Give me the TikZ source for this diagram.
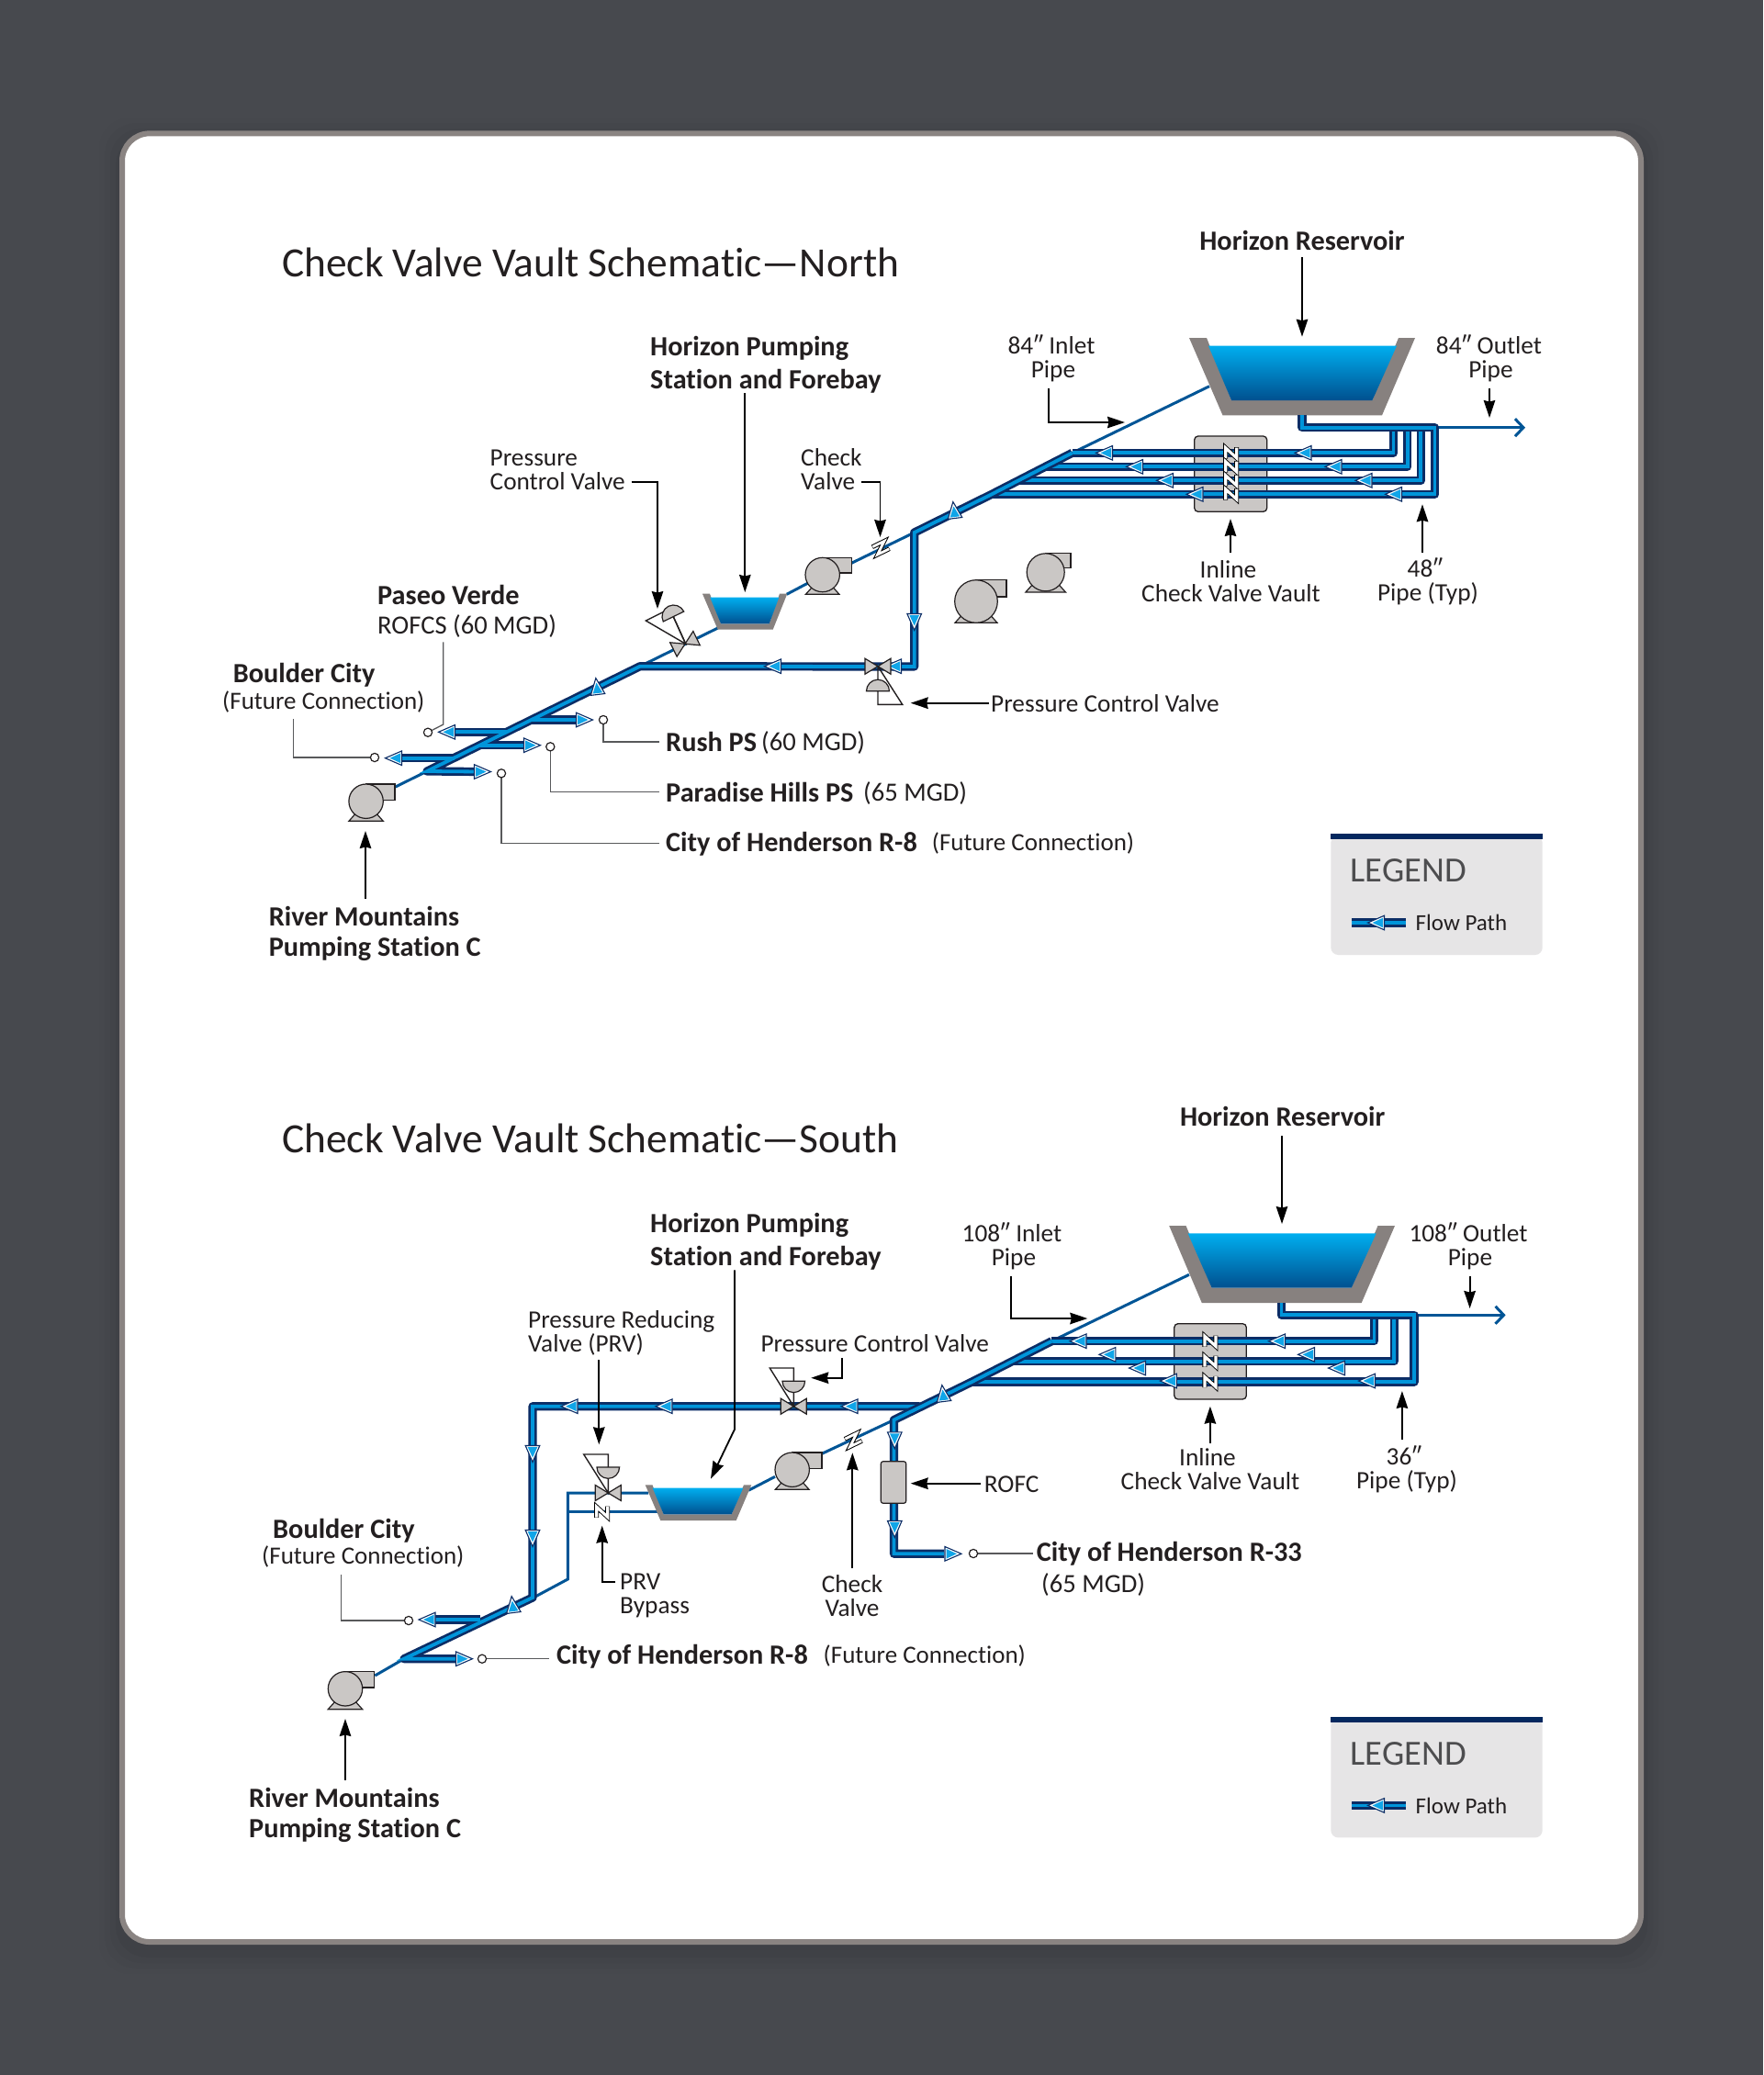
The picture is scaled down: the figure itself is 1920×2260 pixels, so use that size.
\documentclass[tikz,border=0pt]{standalone}
\usepackage{fontspec}
\setmainfont{Carlito}[Ligatures=NoCommon]
\usetikzlibrary{arrows.meta}
\definecolor{bgdark}{HTML}{47494E}
\definecolor{frame}{HTML}{8A8482}
\definecolor{navy}{HTML}{0B2D66}
\definecolor{pipeblue}{HTML}{0095DA}
\definecolor{arrowblue}{HTML}{10A5E8}
\definecolor{thinblue}{HTML}{005596}
\definecolor{watertop}{HTML}{00AEEF}
\definecolor{waterbot}{HTML}{00508F}
\definecolor{greyfill}{HTML}{CAC7C5}
\definecolor{basin}{HTML}{87817F}
\definecolor{ink}{HTML}{231F20}
\definecolor{lead}{HTML}{58595B}
\definecolor{legendbg}{HTML}{E6E5E6}
\definecolor{legendbar}{HTML}{04285F}
\definecolor{legendtxt}{HTML}{4D4D4F}
\tikzset{
  x=1pt,y=-1pt,
  pipeo/.style={draw=navy,line width=9.2pt,line join=round,line cap=butt},
  pipei/.style={draw=pipeblue,line width=3.8pt,line join=miter,line cap=butt},
  thinp/.style={draw=thinblue,line width=3pt},
  callout/.style={draw=black,line width=1.8pt,-{Stealth[length=19pt,width=12.5pt,inset=1.5pt]}},
  leader/.style={draw=lead,line width=1.3pt},
  circ/.style={draw=ink,fill=white,line width=1.2pt},
  hw/.style={draw=ink,line width=1.2pt,fill=greyfill,line join=miter},
  lab/.style={inner sep=0pt,text=ink,font=\fontsize{27.3}{26}\selectfont,align=center,yshift=-.6pt},
  labl/.style={lab,align=left,anchor=west},
  labw/.style={labl,font=\fontsize{28.6}{26}\selectfont},
  bold/.style={inner sep=0pt,text=ink,font=\fontsize{30.3}{36}\selectfont\bfseries,align=left},
  boldone/.style={bold,anchor=west,text height=19.5pt,text depth=0pt},
  boldrm/.style={inner sep=0pt,text=ink,font=\fontsize{30.3}{33}\selectfont\bfseries,align=left,anchor=west},
  titl/.style={inner sep=0pt,anchor=base west,text=ink,font=\fontsize{45.4}{50}\selectfont},
}
\newcommand{\pipepath}[1]{\draw[pipeo] #1; \draw[pipei] #1;}
\newcommand{\flow}[3]{\begin{scope}[shift={(#1,#2)},rotate=#3]
  \draw[navy,fill=white,line width=1.1pt,line join=miter] (9.5,0)--(-8.5,-7.8)--(-8.5,7.8)--cycle;
  \fill[arrowblue] (4.5,0)--(-7,-5.3)--(-7,5.3)--cycle;
\end{scope}}
\newcommand{\zchk}[3]{\begin{scope}[shift={(#1,#2)},rotate=#3]
  \draw[black,line width=4.8pt,miter limit=10] (-8,-5)--(6.5,-5)--(-6.5,5)--(8,5);
  \draw[white,line width=2.8pt,miter limit=10] (-7.5,-5)--(6.5,-5)--(-6.5,5)--(7.5,5);
\end{scope}}
\newcommand{\nchk}[3]{\begin{scope}[shift={(#1,#2)},rotate=#3]
  \draw[black,line width=5pt,miter limit=10] (-6,6.2)--(-6,-5.5)--(6,5.5)--(6,-6.2);
  \draw[white,line width=3.2pt,miter limit=10] (-6,5.8)--(-6,-5.5)--(6,5.5)--(6,-5.8);
\end{scope}}
\newcommand{\vbow}[3]{\begin{scope}[shift={(#1,#2)},rotate=#3]
  \draw[hw] (0,0)--(-14,-8.5)--(-14,8.5)--cycle;
  \draw[hw] (0,0)--(14,-8.5)--(14,8.5)--cycle;
\end{scope}}
% pump: cx cy r right outlet-height baseY baseHalf
\newcommand{\pump}[7]{\begin{scope}[shift={(#1,#2)}]
  \draw[hw] (0,-#3)--(#4,-#3)--(#4,-#3+#5)--(0,-#3+#5)--cycle;
  \draw[hw] (-#7,#6)--(#7,#6)--(#7-9,#6-10)--(-#7+9,#6-10)--cycle;
  \draw[hw] (0,0) circle[radius=#3];
\end{scope}}
\newcommand{\water}[6]{\shade[top color=watertop,bottom color=waterbot] (#1,#5)--(#2,#5)--(#4,#6)--(#3,#6)--cycle;}
\begin{document}
\begin{tikzpicture}
\useasboundingbox (0,0) rectangle (1920,2260);
\fill[bgdark] (0,0) rectangle (1920,2260);
% panel shadow
\foreach \s/\o in {24/.012,18/.015,12/.02,6/.03}{
  \fill[black,opacity=\o,rounded corners=34pt] (132-\s,144-\s+8) rectangle (1788+\s,2118+\s+8);
}
\node[name=panel,draw=frame,line width=6pt,fill=white,rounded corners=30pt,minimum width=1654pt,minimum height=1969.7pt,inner sep=0pt,anchor=center] at (960,1130.2) {};

%%%%%%%%%%%%%%%%%%%% NORTH
\node[titl,name=ntitle] at (307,301) {Check Valve Vault Schematic—North};
% thin pipes
\path (1317,420.7) coordinate (nInA) (1167.6,493.3) coordinate (nD1)
 (1139,508.3) coordinate (nD2) (1109.2,523.3) coordinate (nD3) (1080,538.3) coordinate (nD4)
 (995.7,580) coordinate (nJ) (995.7,726) coordinate (nV) (697,725.7) coordinate (nW)
 (465,840) coordinate (nEnd) (430.7,857) coordinate (nPumpOut)
 (781.7,684) coordinate (nFbL) (856.7,647.3) coordinate (nFbR) (880,635) coordinate (nP2In) (927.3,613.3) coordinate (nP2Out);
\draw[thinp] (nInA)--(nD1);
\draw[thinp] (nW)--(nFbL);
\draw[thinp] (nFbR)--(nP2In);
\draw[thinp] (nP2Out)--(nJ);
\draw[thinp] (nEnd)--(nPumpOut);
\draw[thinp,-{Straight Barb[length=9pt,width=19pt]}] (1559,465.7) coordinate (nOutS) -- (1661,465.7) coordinate (nOutE);
% reservoir N
\fill[basin] (1295,368)--(1314,368)--(1341,436)--(1494.5,436)--(1523,368)--(1541,368)--(1505,452.3)--(1331.5,452.3)--cycle;
\water{1316}{1521}{1341}{1494.5}{376.7}{436}
% vault N
\draw[hw,rounded corners=4pt,line width=1.3pt] (1300.7,475) rectangle (1379.7,557.3);
% branches N
\pipepath{(nD1)--(1517.4,493.3)--(1517.4,465.7)}
\pipepath{(nD2)--(1532.6,508.3)--(1532.6,465.7)}
\pipepath{(nD3)--(1547.3,523.3)--(1547.3,465.7)}
\pipepath{(1418,452)--(1418,465.7)--(1562.5,465.7)--(1562.5,538.3)--(nD4)}
% main and bottom branches N: all navy first, all blue over
\foreach \st in {pipeo,pipei}{
  \draw[\st] (nD1)--(nD4)--(nJ)--(nV)--(nW)--(nEnd)--(524,840.5);
  \draw[\st] (579,784)--(630,784);
  \draw[\st] (552,797.3)--(488,797.3);
  \draw[\st] (523,811.7)--(575,811.7);
  \draw[\st] (495,825.7)--(431,825.7);
}
\foreach \x/\y/\a in {1203/493.3/180,1419.5/493.3/180,1236/508.3/180,1452.5/508.3/180,1269/523.3/180,1485.5/523.3/180,1301.5/538.3/180,1518/538.3/180,
 995.7/677/270,973/725.7/180,842/725.7/180,1039/556/97,650/748/97,
 636/784/0,487/797.3/180,579/811.7/0,429/825.7/180,525/840.5/0}{\flow{\x}{\y}{\a}}
\foreach \yy in {493.3,508.3,523.3,538.3}{\nchk{1340.7}{\yy}{0}}
% hardware N
\zchk{959.3}{596.7}{26}
\vbow{956}{725.7}{0}
\draw[draw=ink,line width=1.4pt,line join=miter] (956,725.7)--(956,767.3)--(982.7,767.3)--cycle;
\draw[hw] (943.5,752.7)--(968.5,752.7) arc[start angle=0,end angle=-180,radius=12.5] -- cycle;
\vbow{746}{701.3}{26}
\draw[draw=ink,line width=1.4pt,fill=white,line join=miter] (746.7,701.3)--(703.3,676)--(726.7,664.3)--(733.3,671.7)--cycle;
\draw[draw=ink,line width=1.4pt] (746.7,701.3)--(733.3,671.7);
\begin{scope}[shift={(733.5,671.5)},rotate=26]
  \draw[hw] (-12.5,0)--(12.5,0) arc[start angle=0,end angle=-180,radius=12.5] -- cycle;
\end{scope}
\fill[basin] (765,646.7)--(773,646.7)--(785,679.3)--(837.7,679.3)--(849,646.7)--(857.3,646.7)--(841.7,685.7)--(781.7,685.7)--cycle;
\water{773.3}{848.3}{785}{837.7}{650.7}{679.3}
\pump{895.7}{626}{18.7}{31.6}{16.6}{21.3}{18.3}
\pump{1063}{655}{23.3}{33}{18.3}{23.3}{23}
\pump{1138.7}{623.3}{20.5}{27.3}{15.3}{21.7}{21.8}
\pump{398.6}{872.7}{18.7}{31.4}{17.7}{21.6}{18.7}
% circles
\path (657,784) coordinate (nC1) (599.3,813.3) coordinate (nC2) (546,842.3) coordinate (nC3) (466,797.7) coordinate (nC4) (408,825) coordinate (nC5);
% labels N
\node[boldone,anchor=center,name=nHR] at (1418,262.5) {Horizon Reservoir};
\node[bold,name=nHP,anchor=west] at (708,397.5) {Horizon Pumping\\Station and Forebay};
\node[lab,name=nIn] at (1145,389.5) {84″ Inlet\\\hspace*{4pt}Pipe};
\node[lab,name=nOut] at (1621.5,389.5) {84″ Outlet\\\hspace*{4pt}Pipe};
\node[labl,name=nPCV1] at (533.5,511) {Pressure\\Control Valve};
\node[labl,name=nCk] at (872,511) {Check\\Valve};
\node[boldone,name=nPV] at (411,648.6) {Paseo Verde};
\node[labw,name=nPV2] at (411,681.8) {ROFCS (60 MGD)};
\node[boldone,name=nBC] at (253.7,733.7) {Boulder City};
\node[labl,name=nBC2,font=\fontsize{27}{26}\selectfont] at (242,764) {(Future Connection)};
\node[labl,name=nPCVb] at (1079,766) {Pressure Control Valve};
\node[lab,name=nVlt] at (1340.5,633) {\hspace*{-6pt}Inline\\Check Valve Vault};
\node[lab,name=nSz] at (1555,633) {\hspace*{-6pt}48″\\Pipe (Typ)};
\node[boldone,name=nRu] at (725,808.6) {Rush PS};
\node[labw,name=nRu2] at (829,808.6) {(60 MGD)};
\node[boldone,name=nPH] at (725,863.4) {Paradise Hills PS};
\node[labw,name=nPH2] at (940,863.4) {(65 MGD)};
\node[boldone,name=nCH] at (725,918) {City of Henderson R-8};
\node[labl,name=nCH2,font=\fontsize{27}{26}\selectfont] at (1014.7,918) {(Future Connection)};
\node[boldrm,name=nRM] at (292.6,1016.5) {River Mountains\\Pumping Station C};
% callouts N
\path (1418,280) coordinate (a1) (1418,366.7) coordinate (a2);
\draw[callout] (a1)--(a2);
\path (811.3,428) coordinate (a1) (811.3,645) coordinate (a2);
\draw[callout] (a1)--(a2);
\path (1142.3,423) coordinate (a1) (1225,460) coordinate (a2);
\draw[callout] (a1)|-(a2);
\path (1622,423) coordinate (a1) (1622,455) coordinate (a2);
\draw[callout] (a1)--(a2);
\path (687.5,524.7) coordinate (a1) (716,663) coordinate (a2);
\draw[callout] (a1)-|(a2);
\path (938.4,524.7) coordinate (a1) (958.5,585) coordinate (a2);
\draw[callout] (a1)-|(a2);
\path (1077,765.7) coordinate (a1) (991.7,765.7) coordinate (a2);
\draw[callout] (a1)--(a2);
\path (1340,601.7) coordinate (a1) (1340,565) coordinate (a2);
\draw[callout] (a1)--(a2);
\path (1549,601.7) coordinate (a1) (1549,549.3) coordinate (a2);
\draw[callout] (a1)--(a2);
\path (398,979) coordinate (a1) (398,905) coordinate (a2);
\draw[callout] (a1)--(a2);
% leaders N
\path (482.8,699.3) coordinate (a1) (482.8,789) coordinate (a2);
\draw[leader] (a1)--(a2)--(nC4);
\path (319.5,783.3) coordinate (a1);
\draw[leader] (a1)|-(nC5);
\path (717.5,808) coordinate (a1);
\draw[leader] (nC1)|-(a1);
\path (717.5,862.7) coordinate (a1);
\draw[leader] (nC2)|-(a1);
\path (717.5,918.3) coordinate (a1);
\draw[leader] (nC3)|-(a1);
\foreach \c in {nC1,nC2,nC3,nC4,nC5}{\draw[circ] (\c) circle[radius=4.6pt];}
% legend N
\fill[legendbg,rounded corners=8pt] (1449.3,910) rectangle (1679.7,1040);
\fill[legendbar] (1449.3,908.3) rectangle (1679.7,914.3);
\node[inner sep=0pt,anchor=west,text=legendtxt,font=\fontsize{38.5}{40}\selectfont,name=nLg] at (1470.5,948.5) {LEGEND};
\node[inner sep=0pt,anchor=west,text=ink,font=\fontsize{25}{26}\selectfont,name=nFP] at (1541.5,1005) {Flow Path};
\path (1472.3,1005) coordinate (a1) (1530.7,1005) coordinate (a2);
\pipepath{(a1)--(a2)}
\flow{1499}{1005}{180}

%%%%%%%%%%%%%%%%%%%% SOUTH
\node[titl,name=stitle] at (307,1255) {Check Valve Vault Schematic—South};
\path (1294.9,1388.3) coordinate (sInA) (1145.3,1460.7) coordinate (sD1) (1102.8,1482.7) coordinate (sD2)
 (1058.5,1505) coordinate (sD3) (973.5,1546.5) coordinate (sJ) (973.5,1692.3) coordinate (sK)
 (1028,1692.3) coordinate (sKe) (1001.7,1531.7) coordinate (sUp) (580,1531.7) coordinate (sCorner)
 (580,1740) coordinate (sLow) (440,1806.7) coordinate (sEnd) (408.3,1825) coordinate (sPOut);
\draw[thinp] (sInA)--(sD1);
\path (895,1583.3) coordinate (sP2Out) (844,1608.3) coordinate (sP2In) (815,1623.3) coordinate (sFbR);
\draw[thinp] (sJ)--(sP2Out);
\draw[thinp] (sP2In)--(sFbR);
\draw[thinp] (sEnd)--(sPOut);
\draw[thinp,-{Straight Barb[length=9pt,width=19pt]}] (1539,1432.3) coordinate (sOutS) -- (1639.6,1432.3) coordinate (sOutE);
\path (706,1626) coordinate (a1) (618.3,1626) coordinate (a2) (618.3,1720) coordinate (a3) (581,1740) coordinate (a4) (716.7,1646.7) coordinate (a5) (618.3,1646.7) coordinate (a6);
\draw[thinp,line join=miter] (a1)--(a2)--(a3)--(a4);
\draw[thinp] (a5)--(a6);
\fill[basin] (1273.2,1335)--(1291.5,1335)--(1319.6,1402.7)--(1471.8,1402.7)--(1500.5,1335)--(1519,1335)--(1482.7,1419)--(1308.8,1419)--cycle;
\water{1293.6}{1498.7}{1319.6}{1471.8}{1343.3}{1402.7}
\draw[hw,rounded corners=4pt,line width=1.3pt] (1278.8,1441.7) rectangle (1357.3,1524);
\pipepath{(sD1)--(1496.5,1460.7)--(1496.5,1432.3)}
\pipepath{(sD2)--(1518.2,1482.7)--(1518.2,1432.3)}
\pipepath{(1395.5,1419)--(1395.5,1432.3)--(1539.9,1432.3)--(1539.9,1505)--(sD3)}
\foreach \st in {pipeo,pipei}{
  \draw[\st] (sUp)--(sCorner)--(sLow)--(sEnd)--(498,1806.7);
  \draw[\st] (523.3,1764)--(472,1764);
}
\pipepath{(sD1)--(sD3)--(sJ)--(sK)--(sKe)}
\foreach \x/\y/\a in {1174.5/1460.7/180,1391/1460.7/180,1206.4/1475.3/180,1423/1475.3/180,1239/1490/180,1456/1490/180,1272.8/1504/180,1489/1504/180,
 1027/1518/97,925.5/1531.7/180,723.5/1531.7/180,620.5/1531.7/180,974.3/1568.3/270,974.3/1665/270,1037.5/1692.3/0,
 580/1583/270,580/1675/270,558.3/1748/97,465.5/1764/180,505/1806.7/0}{\flow{\x}{\y}{\a}}
\foreach \yy in {1460.7,1482.7,1505}{\nchk{1317.9}{\yy}{0}}
\zchk{929.3}{1568.3}{26}
\nchk{655.7}{1646.7}{0}
\draw[hw,rounded corners=2.5pt] (959.3,1591.7) rectangle (986.7,1637.3);
\vbow{864.3}{1531.7}{0}
\draw[draw=ink,line width=1.4pt,line join=miter] (864.3,1531.7)--(838.3,1490)--(864.3,1490)--cycle;
\draw[hw] (852,1504.3) arc[start angle=180,end angle=0,radius=12.3] -- cycle;
\vbow{662.3}{1626}{0}
\draw[draw=ink,line width=1.4pt,line join=miter] (662.3,1626)--(635.7,1584)--(662.3,1584)--cycle;
\draw[hw] (650,1598) arc[start angle=180,end angle=0,radius=12.3] -- cycle;
\fill[basin] (702.7,1617.3)--(710.5,1617.3)--(722.7,1649.3)--(796.7,1649.3)--(810,1617.3)--(818.3,1617.3)--(801.7,1656)--(719.3,1656)--cycle;
\water{710.7}{809.3}{722.7}{796.7}{1620.7}{1649.3}
\pump{862.7}{1600.7}{18.7}{32.3}{17.3}{21.6}{18.4}
\pump{376}{1839.3}{18.7}{31.7}{17.3}{22.4}{18.7}
\path (1060,1692) coordinate (sC1) (445,1765) coordinate (sC2) (525,1806.7) coordinate (sC3);
\node[boldone,anchor=center,name=sHR] at (1396.7,1216.5) {Horizon Reservoir};
\node[bold,name=sHP,anchor=west] at (708,1352) {Horizon Pumping\\Station and Forebay};
\node[lab,name=sIn] at (1102,1356.5) {108″ Inlet\\\hspace*{4pt}Pipe};
\node[lab,name=sOut] at (1599,1356.5) {108″ Outlet\\\hspace*{4pt}Pipe};
\node[labl,name=sPRVt] at (575,1451) {Pressure Reducing\\Valve (PRV)};
\node[labl,name=sPCV] at (828.3,1462.7) {Pressure Control Valve};
\node[labl,name=sRF] at (1071.7,1615.7) {ROFC};
\node[boldone,name=sCH3] at (1128.6,1690.7) {City of Henderson R-33};
\node[labw,name=sCH4] at (1134,1725) {(65 MGD)};
\node[lab,name=sCk] at (928,1737) {Check\\Valve};
\node[labl,name=sBy] at (675,1737) {PRV\\Bypass};
\node[boldone,name=sBC] at (297,1666) {Boulder City};
\node[labl,name=sBC2,font=\fontsize{27}{26}\selectfont] at (285,1695) {(Future Connection)};
\node[boldone,name=sCH] at (606,1803) {City of Henderson R-8};
\node[labl,name=sCH2,font=\fontsize{27}{26}\selectfont] at (896.5,1803) {(Future Connection)};
\node[lab,name=sVlt] at (1318,1600) {\hspace*{-6pt}Inline\\Check Valve Vault};
\node[lab,name=sSz] at (1532,1600) {\hspace*{-6pt}36″\\Pipe (Typ)};
\node[boldrm,name=sRM] at (271,1976.5) {River Mountains\\Pumping Station C};
\path (1396,1237) coordinate (a1) (1396,1333) coordinate (a2);
\draw[callout] (a1)--(a2);
\path (800,1383.3) coordinate (a1) (800,1556.7) coordinate (a2) (774,1610.7) coordinate (a3);
\draw[callout] (a1)--(a2)--(a3);
\path (1100.6,1390) coordinate (a1) (1184.3,1436) coordinate (a2);
\draw[callout] (a1)|-(a2);
\path (1600.6,1390) coordinate (a1) (1600.6,1425) coordinate (a2);
\draw[callout] (a1)--(a2);
\path (652.3,1481) coordinate (a1) (652.3,1573.3) coordinate (a2);
\draw[callout] (a1)--(a2);
\path (916.7,1479) coordinate (a1) (883.3,1500.7) coordinate (a2);
\draw[callout] (a1)|-(a2);
\path (1068.3,1615.7) coordinate (a1) (991.7,1615.7) coordinate (a2);
\draw[callout] (a1)--(a2);
\path (928.3,1708) coordinate (a1) (928.3,1582.3) coordinate (a2);
\draw[callout] (a1)--(a2);
\path (670,1723.3) coordinate (a1) (655.7,1661.7) coordinate (a2);
\draw[callout] (a1)-|(a2);
\path (1317.9,1571.7) coordinate (a1) (1317.9,1531.7) coordinate (a2);
\draw[callout] (a1)--(a2);
\path (1526.9,1568) coordinate (a1) (1526.9,1515) coordinate (a2);
\draw[callout] (a1)--(a2);
\path (376,1939) coordinate (a1) (376,1872) coordinate (a2);
\draw[callout] (a1)--(a2);
\path (1125,1692) coordinate (a1);
\draw[leader] (sC1)--(a1);
\path (371.7,1715) coordinate (a1);
\draw[leader] (a1)|-(sC2);
\path (598.3,1806.7) coordinate (a1);
\draw[leader] (sC3)--(a1);
\foreach \c in {sC1,sC2,sC3}{\draw[circ] (\c) circle[radius=4.6pt];}
\fill[legendbg,rounded corners=8pt] (1449.3,1871.4) rectangle (1679.7,2001.4);
\fill[legendbar] (1449.3,1869.7) rectangle (1679.7,1875.7);
\node[inner sep=0pt,anchor=west,text=legendtxt,font=\fontsize{38.5}{40}\selectfont,name=sLg] at (1470.5,1909.9) {LEGEND};
\node[inner sep=0pt,anchor=west,text=ink,font=\fontsize{25}{26}\selectfont,name=sFP] at (1541.5,1966.4) {Flow Path};
\path (1472.3,1966.4) coordinate (a1) (1530.7,1966.4) coordinate (a2);
\pipepath{(a1)--(a2)}
\flow{1499}{1966.4}{180}
\end{tikzpicture}
\end{document}
